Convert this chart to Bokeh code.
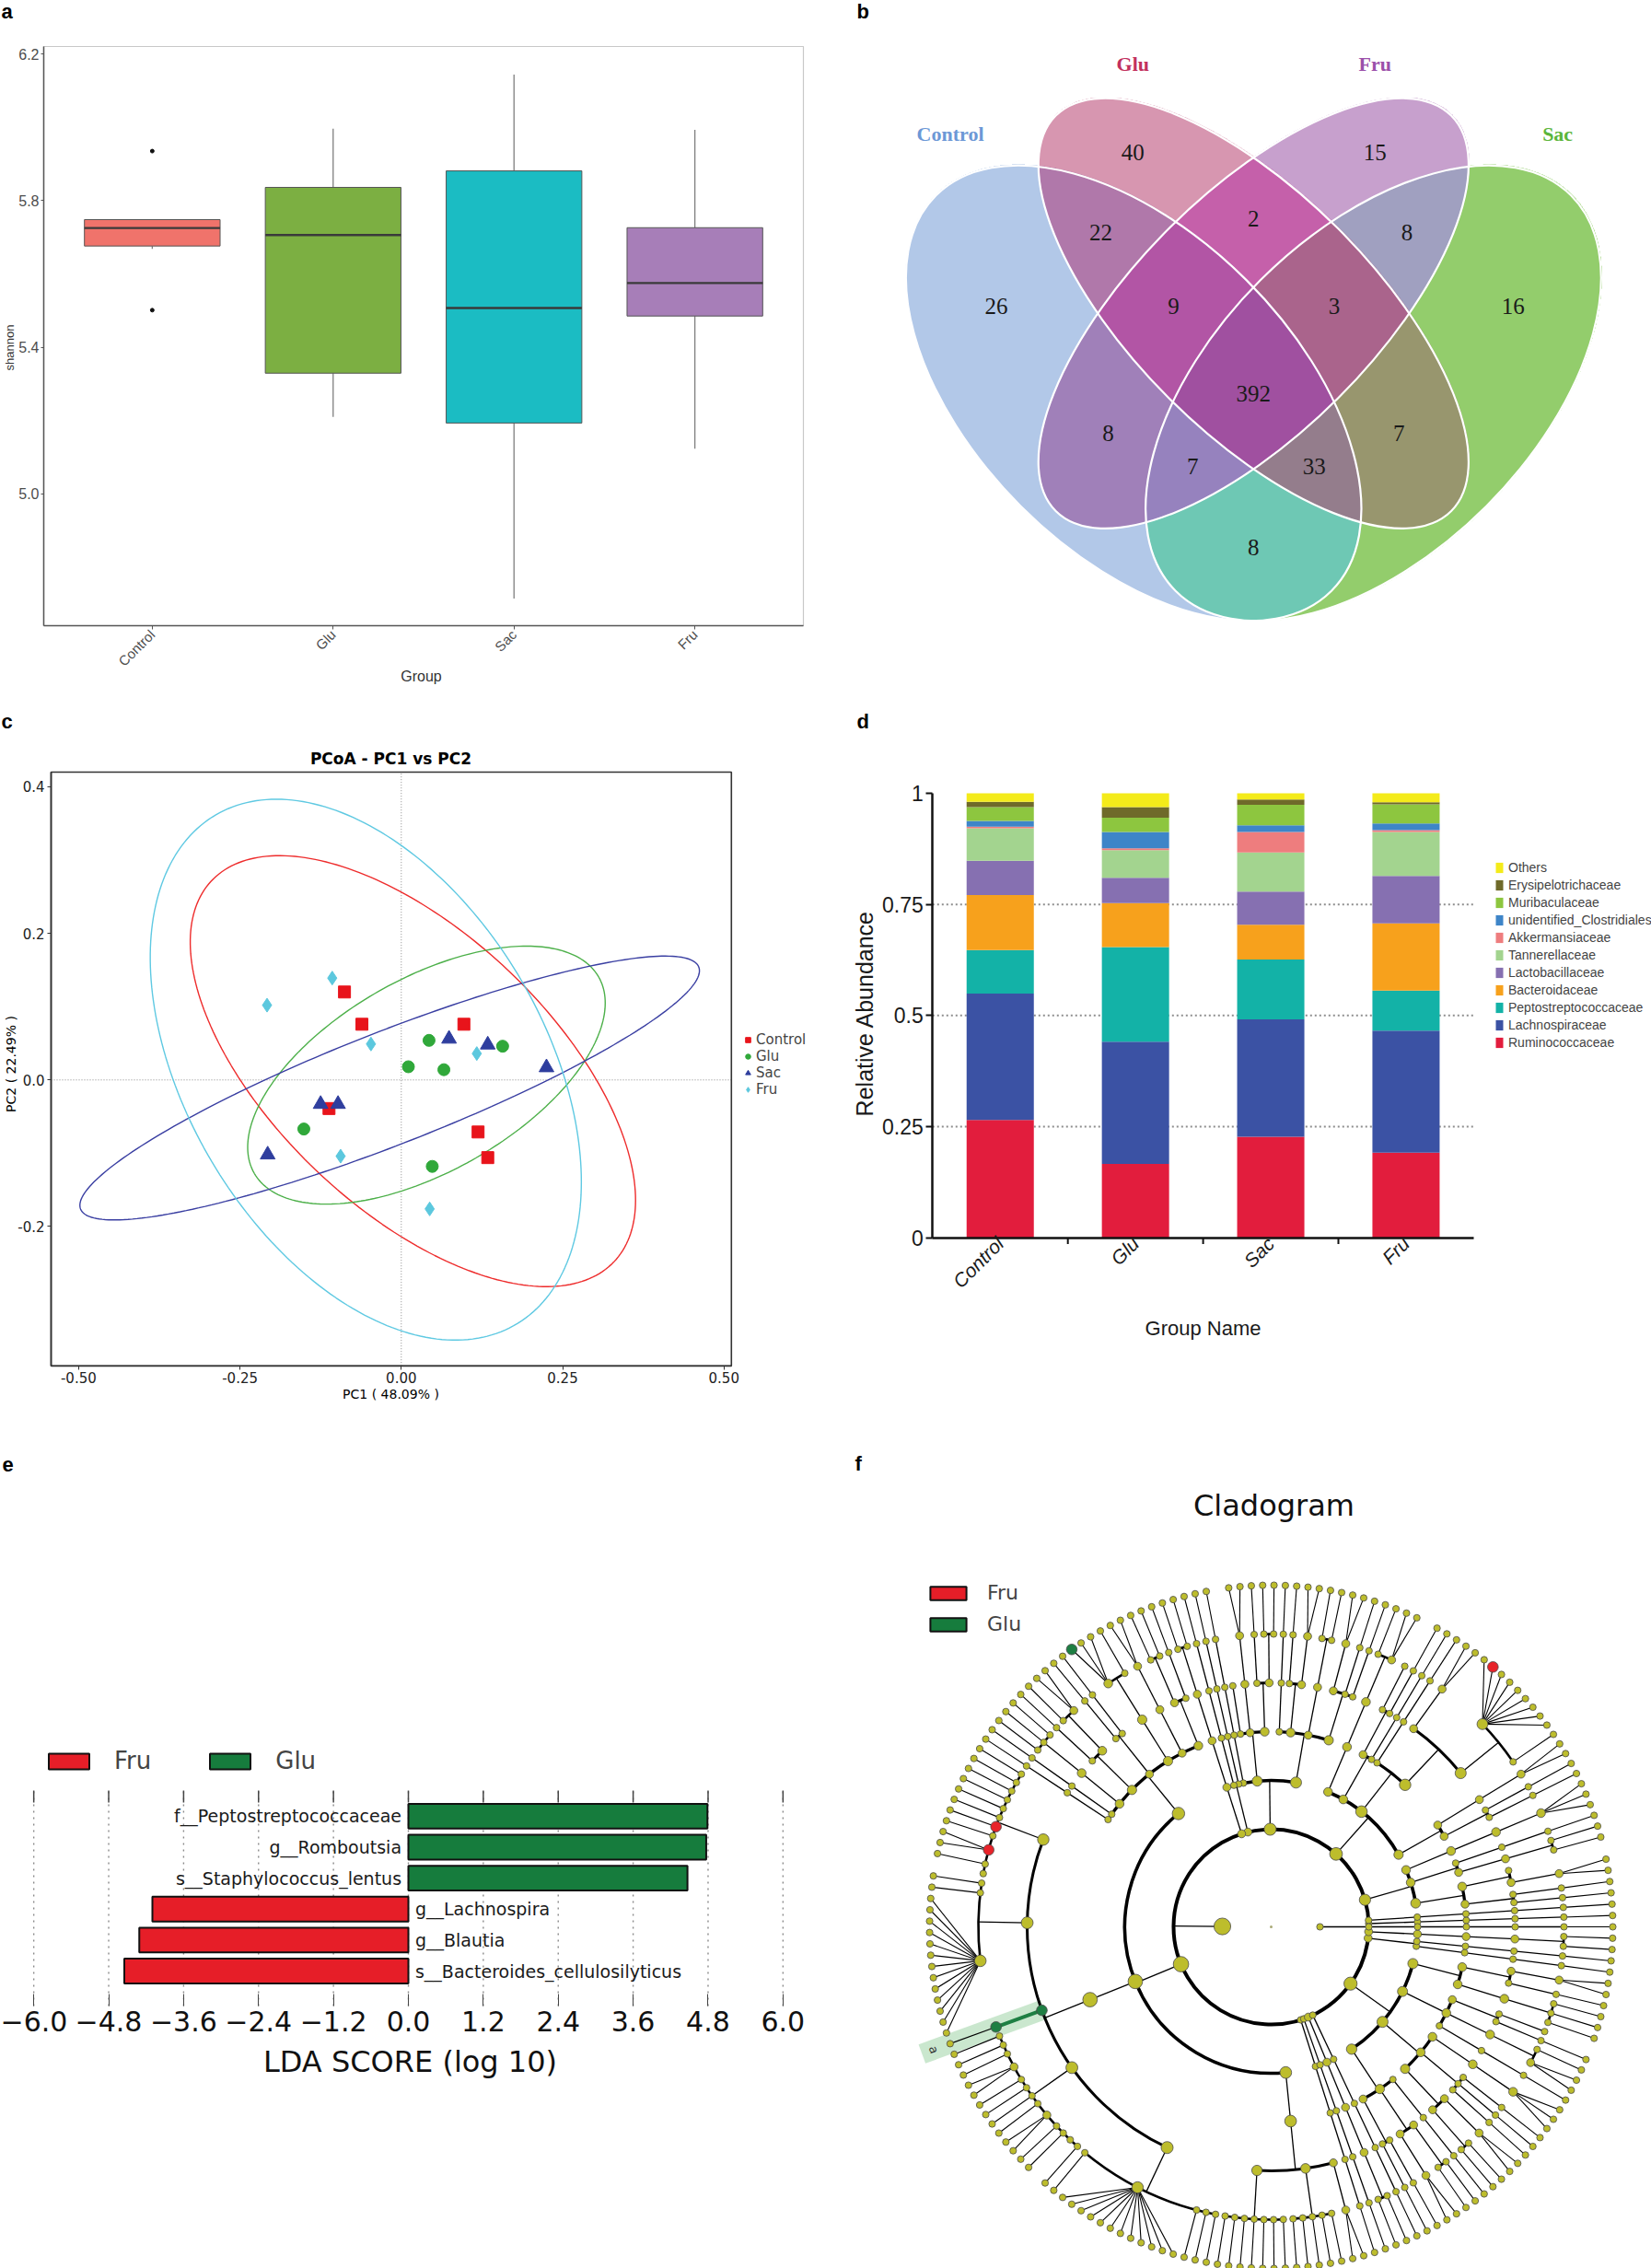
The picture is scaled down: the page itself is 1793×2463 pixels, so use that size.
import math
import numpy as np
from bokeh.plotting import figure
from bokeh.layouts import column, row
from bokeh.models import Label, FixedTicker, Range1d, LinearAxis, Legend, LegendItem
from bokeh.core.properties import value
from bokeh.embed import file_html
from bokeh.resources import INLINE

SANS = "Liberation Sans"
DJV = "DejaVu Sans"
SERIF = "Liberation Serif"

groups = ["Control", "Glu", "Sac", "Fru"]

# ---------------- (a) Shannon index ----------------
shannon_q1 = [5.676, 5.329, 5.193, 5.485]
shannon_median = [5.725, 5.706, 5.507, 5.575]
shannon_q3 = [5.748, 5.836, 5.881, 5.726]
shannon_low = [5.668, 5.210, 4.714, 5.123]
shannon_high = [5.748, 5.996, 6.144, 5.993]
outlier_groups = ["Control", "Control"]
outlier_values = [5.935, 5.501]
shannon_ticks = [5.0, 5.4, 5.8, 6.2]
box_colors = ["#F0736B", "#7CAF42", "#1BBCC3", "#A77EB8"]

# ---------------- (b) Venn ----------------
venn_names = ["Control", "Glu", "Fru", "Sac"]
venn_name_colors = ["#6C98D6", "#C2305E", "#9B50AA", "#5BB53B"]
venn_regions = ["Control", "Glu", "Fru", "Sac", "Control&Glu", "Glu&Fru", "Fru&Sac",
                "Control&Glu&Fru", "Glu&Fru&Sac", "Control&Glu&Fru&Sac", "Control&Fru",
                "Glu&Sac", "Control&Fru&Sac", "Control&Glu&Sac", "Control&Sac"]
venn_counts = [26, 40, 15, 16, 22, 2, 8, 9, 3, 392, 8, 7, 7, 33, 8]
venn_region_colors = ["#B2C8E8", "#D796B0", "#C7A0CD", "#93CD6C", "#B078AA", "#C560AA", "#A0A0C0",
                      "#B255A5", "#AA648C", "#A050A0", "#A080B9", "#98966E", "#9682BE", "#947D8C",
                      "#6EC8B4"]
# layout of the 4-set diagram (unit square)
venn_ell_x = [0.35, 0.50, 0.50, 0.65]
venn_ell_y = [0.47, 0.57, 0.57, 0.47]
venn_ell_a = [0.35, 0.35, 0.35, 0.35]
venn_ell_b = [0.20, 0.15, 0.15, 0.20]
venn_ell_rot = [135, 135, 45, 45]
venn_label_x = [0.1205, 0.349, 0.652, 0.8807]
venn_label_y = [0.794, 0.8825, 0.8825, 0.794]
venn_count_x = [0.178, 0.349, 0.652, 0.825, 0.309, 0.5, 0.692, 0.4, 0.601, 0.5, 0.318, 0.682, 0.424, 0.576, 0.5]
venn_count_y = [0.579, 0.771, 0.771, 0.579, 0.671, 0.689, 0.671, 0.579, 0.579, 0.469, 0.42, 0.42, 0.378, 0.378, 0.277]

# ---------------- (c) PCoA ----------------
control_pc1 = [-0.088, -0.061, 0.097, -0.112, 0.119, 0.134]
control_pc2 = [0.120, 0.076, 0.076, -0.039, -0.071, -0.106]
glu_pc1 = [0.043, 0.157, 0.011, 0.066, -0.151, 0.048]
glu_pc2 = [0.054, 0.046, 0.018, 0.014, -0.067, -0.118]
sac_pc1 = [0.074, 0.134, 0.225, -0.125, -0.098, -0.207]
sac_pc2 = [0.056, 0.048, 0.017, -0.033, -0.033, -0.102]
fru_pc1 = [-0.107, -0.208, -0.047, 0.117, -0.094, 0.044]
fru_pc2 = [0.139, 0.102, 0.049, 0.036, -0.104, -0.176]
# confidence ellipses: centre, half-extent in PC1, half-extent in PC2, cos(phase)
ell_cx = [0.018, 0.039, -0.018, -0.055]
ell_cy = [0.012, 0.0066, -0.011, 0.014]
ell_ax = [0.345, 0.277, 0.480, 0.334]
ell_by = [0.294, 0.176, 0.180, 0.369]
ell_cos = [-0.599, 0.559, 0.889, -0.415]
pc1_ticks = [-0.5, -0.25, 0.0, 0.25, 0.5]
pc2_ticks = [-0.2, 0.0, 0.2, 0.4]
pcoa_colors = ["#E8141B", "#30A83A", "#2F3E9E", "#5CC8DE"]
pcoa_ell_colors = ["#EE2C2C", "#4DB04A", "#3A3FA2", "#5FC9E2"]
pcoa_markers = ["square", "circle", "triangle", "diamond"]
pcoa_sizes = [13, 13, 16, 15]

# ---------------- (d) relative abundance ----------------
families = ["Ruminococcaceae", "Lachnospiraceae", "Peptostreptococcaceae", "Bacteroidaceae",
            "Lactobacillaceae", "Tannerellaceae", "Akkermansiaceae", "unidentified_Clostridiales",
            "Muribaculaceae", "Erysipelotrichaceae", "Others"]
abund_control = [0.265, 0.284, 0.098, 0.124, 0.077, 0.073, 0.004, 0.013, 0.031, 0.012, 0.019]
abund_glu = [0.166, 0.275, 0.213, 0.099, 0.057, 0.062, 0.004, 0.037, 0.032, 0.024, 0.031]
abund_sac = [0.227, 0.264, 0.135, 0.078, 0.075, 0.088, 0.046, 0.015, 0.046, 0.012, 0.014]
abund_fru = [0.191, 0.275, 0.090, 0.151, 0.107, 0.099, 0.004, 0.015, 0.043, 0.005, 0.020]
family_colors = ["#E21D3D", "#3B52A4", "#13B2A7", "#F7A11C", "#8670B1", "#A3D48F",
                 "#EE7D7E", "#3E85C8", "#8DC63F", "#6F6A2A", "#F4EB1A"]
abund_ticks = [0, 0.25, 0.5, 0.75, 1]
abund_labels = ["0", "0.25", "0.5", "0.75", "1"]

# ---------------- (e) LEfSe LDA ----------------
lda_taxa = ["s__Bacteroides_cellulosilyticus", "g__Blautia", "g__Lachnospira",
            "s__Staphylococcus_lentus", "g__Romboutsia", "f__Peptostreptococcaceae"]
lda_scores = [-4.55, -4.31, -4.10, 4.47, 4.77, 4.79]
lda_groups = ["Fru", "Fru", "Fru", "Glu", "Glu", "Glu"]
lda_ticks = [-6.0, -4.8, -3.6, -2.4, -1.2, 0.0, 1.2, 2.4, 3.6, 4.8, 6.0]
lefse_colors = {"Fru": "#E61E28", "Glu": "#167C3D"}

# ---------------- (f) cladogram (phylum > class > order > family > genus > species) ----------------
# list = clade with children, int n = clade with n terminal children, 0 = terminal clade,
# (group, spec) = clade enriched in that group
P01 = [[[[1]]]]
P02 = [[[[1]]]]
P03 = [[[[1], [1]], [[2], 0]], [[[1, 1]], [[1]]], [[[3]]]]
P04 = [[[[1], [1]], [[2]]],
       [[[1, [0, 0, 0, 0, 0, 0, 0, ("Fru", 0), 0]], [2]], [[1]]],
       [[[1]], [[1], [0]]],
       [[[2, 1]]]]
P05 = [[[[1], [1], [2]], [[1, 1]], [[2], [1]], [[1]]],
       [[[1, 1], [1]], [[2]], [0]],
       [[[1]]]]
P06 = [[[[1]]], [[[1]]]]
P07 = [[[[1, 1]]]]
FIRM_C1 = [[[1], [1, 1]], [[2]], [[1, [0, 0, ("Glu", 0)]]], [[1], [1]], [[2, 1], [1]],
           [[1, 1, 1]], [[1]], [[1]]]
FIRM_C2 = [[[1, 1, 1, 1, 1, 1, ("Fru", 1), 1, ("Fru", 2), 1, 0],
            [1, 1, 13],
            ("Glu", [("Glu", 1)]),
            [1, 1, 1, 2, 1, 1, 1, 1, 2, 1, 1, 0, 1],
            [1, 12, 1, 1, 1]]]
FIRM_C3 = [[[1, 1, 1, 1, 1, 1, 1], [1, 1, 1, 1, 1], [2]]]
FIRMICUTES = [FIRM_C1, FIRM_C2, FIRM_C3]
P10 = [[[[1]]]]
P11 = [[[[1]]]]
P12 = [[[[1, 1]]]]
P13 = [[[[1]]]]
P14 = [[[[1], [1]], [[2], [1, 1]], [[1]]],
       [[[1, 1], [2]], [[1], [1], [1]], [[3]]],
       [[[1]], [[2, 1]], [[1], [0]]],
       [[[1, 1, 1]], [[1], [2]]]]
P15 = [[[[1]]], [[[1]]]]
P16 = [[[[1, 1]]]]
BACTERIA = [P01, P02, P03, P04, P05, P06, P07, FIRMICUTES, P10, P11, P12, P13, P14, P15, P16]
ARCHAEA = [[[[[1]]]]]
TREE = [BACTERIA, ARCHAEA]


class Box:
    """Figure W x H placed at page (ox, oy); plot box given in page pixels mapped onto data ranges.
    The Bokeh frame is the whole figure."""

    def __init__(self, W, H, ox, oy, L, R, T, Bt, x0, x1, y0, y1):
        self.W, self.H, self.ox, self.oy = W, H, ox, oy
        l, r, t, b = L - ox, W - (R - ox), T - oy, H - (Bt - oy)
        self.sx = (x1 - x0) / (W - l - r)
        self.sy = (y1 - y0) / (H - t - b)
        self.X0 = x0 - l * self.sx
        self.Y1 = y1 + t * self.sy
        self.xr = Range1d(self.X0, x1 + r * self.sx)
        self.yr = Range1d(y0 - b * self.sy, self.Y1)

    def dx(self, X):
        return self.X0 + (X - self.ox) * self.sx

    def dy(self, Y):
        return self.Y1 - (Y - self.oy) * self.sy

    def loc(self, X, Ybottom):
        return (X - self.ox, self.H - (Ybottom - self.oy))


def fig(B):
    p = figure(width=B.W, height=B.H, x_range=B.xr, y_range=B.yr, output_backend="svg",
               toolbar_location=None, min_border=0, x_axis_location=None, y_axis_location=None)
    p.grid.visible = False
    p.outline_line_color = None
    return p


def lab(p, B, X, Y, text, size, color="#000000", font=SANS, style="normal", align="center",
        angle=0.0, baseline="middle"):
    p.add_layout(Label(x=B.dx(X), y=B.dy(Y), text=text, text_font=font, text_font_size=size,
                       text_color=color, text_font_style=style, text_align=align,
                       text_baseline=baseline, angle=angle))


def style_axis(ax, font, size, color, line_color, line_width, tick_out=4, tick_in=0, standoff=3):
    ax.axis_line_color = line_color
    ax.axis_line_width = line_width
    ax.major_tick_out = tick_out
    ax.major_tick_in = tick_in
    ax.major_tick_line_color = line_color
    ax.minor_tick_line_color = None
    ax.major_label_text_font = font
    ax.major_label_text_font_size = size
    ax.major_label_text_color = color
    ax.major_label_standoff = standoff


# ======================= panel a =======================
A0, A1, AY0, AY1 = 0.4, 4.6, 4.640, 6.2204
BA = Box(900, 760, 0, 0, 47, 872, 50, 679, A0, A1, AY0, AY1)
pa = fig(BA)
pa.quad(left=[A0], right=[A1], bottom=[AY0], top=[AY1], fill_color=None, line_color="#C8C8C8",
        line_width=1.2)
gx = [i + 1 for i in range(len(groups))]
pa.segment(gx, shannon_q3, gx, shannon_high, line_color="#7F7F7F", line_width=1.3)
pa.segment(gx, shannon_low, gx, shannon_q1, line_color="#7F7F7F", line_width=1.3)
pa.vbar(x=gx, width=0.75, bottom=shannon_q1, top=shannon_q3, fill_color=box_colors,
        line_color="#555555", line_width=1.0)
pa.segment([x - 0.375 for x in gx], shannon_median, [x + 0.375 for x in gx], shannon_median,
           line_color="#3A3A3A", line_width=2.4)
pa.scatter([groups.index(g) + 1 for g in outlier_groups], outlier_values, size=4, color="#111111")
xa = LinearAxis(fixed_location=AY0, bounds=(A0, A1), ticker=FixedTicker(ticks=gx),
                major_label_overrides={x: g for x, g in zip(gx, groups)},
                major_label_orientation=math.pi / 4)
style_axis(xa, SANS, "15px", "#4D4D4D", "#555555", 1.5)
pa.add_layout(xa, "below")
ya = LinearAxis(fixed_location=A0, bounds=(AY0, AY1), ticker=FixedTicker(ticks=shannon_ticks),
                major_label_overrides={t: "%.1f" % t for t in shannon_ticks})
style_axis(ya, SANS, "16px", "#4D4D4D", "#555555", 1.5, tick_out=3, standoff=2)
pa.add_layout(ya, "left")
lab(pa, BA, 1, 12, "a", "22px", style="bold", align="left")
lab(pa, BA, 457, 734, "Group", "16px", color="#333333")
lab(pa, BA, 10, 377, "shannon", "13px", color="#333333", angle=math.pi / 2)

# ======================= panel b =======================
VPX = 867.7                      # pixels per unit of the Venn layout
BB = Box(893, 760, 900, 0, 900, 1793, 0, 760, -0.0311, 0.9981, 0.0857, 0.9616)
pb = fig(BB)
upp = 1.0 / VPX
vx0, vy0 = 0.065, 0.185
vnx, vny = int(0.8705 * VPX) + 1, int(0.654 * VPX) + 1
gxs = vx0 + (np.arange(vnx) + 0.5) * upp
gys = vy0 + (np.arange(vny) + 0.5) * upp
XX, YY = np.meshgrid(gxs, gys)
mask = np.zeros((vny, vnx), dtype=np.int32)
for i in range(4):
    th = math.radians(venn_ell_rot[i])
    ddx = XX - venn_ell_x[i]
    ddy = YY - venn_ell_y[i]
    u = ddx * math.cos(th) + ddy * math.sin(th)
    v = -ddx * math.sin(th) + ddy * math.cos(th)
    inside = (u / venn_ell_a[i]) ** 2 + (v / venn_ell_b[i]) ** 2 <= 1.0
    mask |= inside.astype(np.int32) << i
img = np.zeros((vny, vnx), dtype=np.uint32)
view = img.view(dtype=np.uint8).reshape((vny, vnx, 4))
for name, col in zip(venn_regions, venn_region_colors):
    m = sum(1 << venn_names.index(s) for s in name.split("&"))
    sel = mask == m
    view[sel, 0] = int(col[1:3], 16)
    view[sel, 1] = int(col[3:5], 16)
    view[sel, 2] = int(col[5:7], 16)
    view[sel, 3] = 255
pb.image_rgba(image=[img], x=vx0, y=vy0, dw=vnx * upp, dh=vny * upp)
pb.ellipse(x=venn_ell_x, y=venn_ell_y, width=[2 * a for a in venn_ell_a],
           height=[2 * b for b in venn_ell_b], angle=[math.radians(r) for r in venn_ell_rot],
           fill_color=None, line_color="white", line_width=2.2)
pb.text(x=venn_count_x, y=venn_count_y, text=[str(c) for c in venn_counts],
        text_font=value(SERIF), text_font_size="25px", text_color="#1A1A1A",
        text_align="center", text_baseline="middle")
pb.text(x=venn_label_x, y=venn_label_y, text=venn_names, text_color=venn_name_colors,
        text_font=value(SERIF), text_font_style="bold", text_font_size="22px",
        text_align="center", text_baseline="middle")
lab(pb, BB, 930, 12, "b", "22px", style="bold", align="left")

# ======================= panel c =======================
C0, C1, CY0, CY1 = -0.5426, 0.5115, -0.390, 0.420
BC = Box(900, 780, 0, 760, 55, 793.8, 838, 1482.7, C0, C1, CY0, CY1)
pc = fig(BC)
pc.segment(x0=[0.0, C0], y0=[CY0, 0.0], x1=[0.0, C1], y1=[CY1, 0.0], line_color="#8A8A8A",
           line_dash="1 2", line_width=1)
tt = np.linspace(0, 2 * np.pi, 240)
for i in range(4):
    dd = math.acos(ell_cos[i])
    pc.line(ell_cx[i] + ell_ax[i] * np.cos(tt), ell_cy[i] + ell_by[i] * np.cos(tt - dd),
            line_color=pcoa_ell_colors[i], line_width=1.4)
pcoa_x = [control_pc1, glu_pc1, sac_pc1, fru_pc1]
pcoa_y = [control_pc2, glu_pc2, sac_pc2, fru_pc2]
crend = []
for i, g in enumerate(groups):
    crend.append(pc.scatter(pcoa_x[i], pcoa_y[i], marker=pcoa_markers[i], size=pcoa_sizes[i],
                            fill_color=pcoa_colors[i], line_color=pcoa_colors[i]))
pc.quad(left=[C0], right=[C1], bottom=[CY0], top=[CY1], fill_color=None, line_color="#333333",
        line_width=1.6)
xc = LinearAxis(fixed_location=CY0, bounds=(C0, C1), ticker=FixedTicker(ticks=pc1_ticks),
                major_label_overrides={t: "%.2f" % t for t in pc1_ticks})
style_axis(xc, DJV, "15px", "#222222", "#333333", 1.6)
pc.add_layout(xc, "below")
yc = LinearAxis(fixed_location=C0, bounds=(CY0, CY1), ticker=FixedTicker(ticks=pc2_ticks),
                major_label_overrides={t: "%.1f" % t for t in pc2_ticks})
style_axis(yc, DJV, "15px", "#222222", "#333333", 1.6)
pc.add_layout(yc, "left")
leg_c = Legend(items=[LegendItem(label=g, renderers=[crend[i]]) for i, g in enumerate(groups)],
               location=BC.loc(805, 1192), padding=0, margin=0, spacing=0, glyph_width=14,
               glyph_height=14, label_height=14, label_standoff=2, label_text_font=DJV,
               label_text_font_size="15px", label_text_line_height=0.95,
               border_line_color=None, background_fill_alpha=0)
pc.add_layout(leg_c)
lab(pc, BC, 1, 783, "c", "22px", style="bold", align="left")
lab(pc, BC, 424, 823, "PCoA - PC1 vs PC2", "17px", font=DJV, style="bold")
lab(pc, BC, 424, 1513, "PC1 ( 48.09% )", "14px", font=DJV)
lab(pc, BC, 11, 1155, "PC2 ( 22.49% )", "14px", font=DJV, angle=math.pi / 2)

# ======================= panel d =======================
BD = Box(893, 780, 900, 760, 1012.3, 1599.9, 861, 1343.5, 0.0, 4.0, 0.0, 1.0)
pdd = fig(BD)
grid_levels = abund_ticks[1:-1]
pdd.segment(x0=[0.0] * len(grid_levels), y0=grid_levels, x1=[4.0] * len(grid_levels), y1=grid_levels,
            line_color="#8E8E8E", line_dash="2 3", line_width=2)
bar_x = [0.5, 1.5, 2.5, 3.5]
abund = [abund_control, abund_glu, abund_sac, abund_fru]
src = {"x": bar_x}
for j, fam in enumerate(families):
    src[fam] = [abund[k][j] for k in range(4)]
rends = pdd.vbar_stack(families, x="x", width=0.497, color=family_colors, source=src, line_width=0)
bounds_x = [1.0, 2.0, 3.0]
pdd.segment(x0=bounds_x, y0=[0.0] * 3, x1=bounds_x, y1=[-7 * BD.sy] * 3, line_color="#111111",
            line_width=2)
xd = LinearAxis(fixed_location=0.0, bounds=(0.0, 4.0), ticker=FixedTicker(ticks=bar_x),
                major_label_overrides={x: g for x, g in zip(bar_x, groups)},
                major_label_orientation=math.pi / 4, major_label_text_font_style="italic")
style_axis(xd, SANS, "21px", "#1A1A1A", "#111111", 2.5, tick_out=0)
xd.major_tick_line_color = None
pdd.add_layout(xd, "below")
yd = LinearAxis(fixed_location=0.0, bounds=(0.0, 1.0), ticker=FixedTicker(ticks=abund_ticks),
                major_label_overrides={t: s for t, s in zip(abund_ticks, abund_labels)})
style_axis(yd, SANS, "23px", "#1A1A1A", "#111111", 2.5, tick_out=7)
yd.major_tick_line_width = 2
pdd.add_layout(yd, "left")
leg_d = Legend(items=[LegendItem(label=families[j], renderers=[rends[j]]) for j in range(len(families) - 1, -1, -1)],
               location=BD.loc(1623, 1141), padding=0, margin=0, spacing=0, glyph_width=10,
               glyph_height=14, label_height=19, label_standoff=5, label_text_font=SANS,
               label_text_font_size="14px", label_text_line_height=1.0,
               border_line_color=None, background_fill_alpha=0)
pdd.add_layout(leg_d)
lab(pdd, BD, 930, 783, "d", "22px", style="bold", align="left")
lab(pdd, BD, 938, 1100, "Relative Abundance", "25px", color="#1A1A1A", angle=math.pi / 2)
lab(pdd, BD, 1306, 1442, "Group Name", "22px", color="#1A1A1A")

# ======================= panel e =======================
E0, E1, EY0, EY1 = -6.262, 6.253, -1.13, 5.83
BE = Box(900, 923, 0, 1540, 18.4, 867, 1944, 2178, E0, E1, EY0, EY1)
pe = fig(BE)
nt = len(lda_ticks)
pe.segment(x0=lda_ticks, y0=[EY0] * nt, x1=lda_ticks, y1=[EY1] * nt, line_color="#8A8A8A",
           line_dash="2 5", line_width=1.4)
pe.segment(x0=lda_ticks, y0=[EY1] * nt, x1=lda_ticks, y1=[EY1 - 13 * BE.sy] * nt,
           line_color="#444444", line_width=1.5)
ypos = list(range(len(lda_taxa)))
erend = {}
for grp in ["Fru", "Glu"]:
    idx = [i for i, g in enumerate(lda_groups) if g == grp]
    erend[grp] = pe.hbar(y=[ypos[i] for i in idx], left=0, right=[lda_scores[i] for i in idx],
                         height=0.8, fill_color=lefse_colors[grp], line_color="#111111", line_width=2)
pos_i = [i for i, s in enumerate(lda_scores) if s > 0]
neg_i = [i for i, s in enumerate(lda_scores) if s <= 0]
pe.text(x=[-0.11] * len(pos_i), y=[ypos[i] for i in pos_i], text=[lda_taxa[i] for i in pos_i],
        text_align="right", text_baseline="middle", text_font=value(DJV), text_font_size="19px",
        text_color="#1A1A1A")
pe.text(x=[0.11] * len(neg_i), y=[ypos[i] for i in neg_i], text=[lda_taxa[i] for i in neg_i],
        text_align="left", text_baseline="middle", text_font=value(DJV), text_font_size="19px",
        text_color="#1A1A1A")
xe = LinearAxis(fixed_location=EY0, bounds=(E0, E1), ticker=FixedTicker(ticks=lda_ticks),
                major_label_overrides={t: ("\u2212%.1f" % abs(t) if t < 0 else "%.1f" % t) for t in lda_ticks})
style_axis(xe, DJV, "30px", "#111111", "#444444", 1.5, tick_out=0, tick_in=13, standoff=5)
xe.axis_line_color = None
pe.add_layout(xe, "below")
leg_e = Legend(items=[LegendItem(label=g, renderers=[erend[g]]) for g in ["Fru", "Glu"]],
               orientation="horizontal", location=BE.loc(47, 1927), padding=0, margin=0, spacing=58,
               glyph_width=55, glyph_height=21, label_standoff=22, label_text_font=DJV,
               label_text_font_size="26px", border_line_color=None, background_fill_alpha=0)
pe.add_layout(leg_e)
lab(pe, BE, 2, 1590, "e", "22px", style="bold", align="left")
lab(pe, BE, 445, 2238, "LDA SCORE (log 10)", "32px", font=DJV, color="#111111")

# ======================= panel f =======================
BF = Box(893, 923, 900, 1540, 900, 1793, 1540, 2463, 0.0, 893.0, 0.0, 923.0)
pf = fig(BF)
CX, CY, DR = BF.dx(1380), BF.dy(2092), 53.0


def build(spec, depth):
    cls = None
    if isinstance(spec, tuple):
        cls, spec = spec
    kids = [0] * spec if isinstance(spec, int) else spec
    return {"d": depth, "cls": cls, "kids": [build(k, depth + 1) for k in kids]}


root = build(TREE, 0)
leaves = []


def collect(n):
    if not n["kids"]:
        leaves.append(n)
    for k in n["kids"]:
        collect(k)


collect(root)
NL = len(leaves)
for i, lf in enumerate(leaves):
    lf["a"] = (i + 1) * 360.0 / NL


def assign(n):
    if n["kids"]:
        for k in n["kids"]:
            assign(k)
        n["a"] = (n["kids"][0]["a"] + n["kids"][-1]["a"]) / 2.0
        n["n"] = sum(k["n"] for k in n["kids"])
    else:
        n["n"] = 1


assign(root)


def pol(r, a):
    return CX + r * math.cos(math.radians(a)), CY + r * math.sin(math.radians(a))


seg = {"x0": [], "y0": [], "x1": [], "y1": [], "c": [], "w": []}
arc = {"r": [], "s": [], "e": [], "w": []}
nodes = {"x": [], "y": [], "s": [], "c": []}
arc_w = {2: 4.0, 3: 3.6, 4: 3.3, 5: 3.0, 6: 2.6}
node_col = {None: "#BDBD2C", "Fru": "#E8232A", "Glu": "#1E7F43"}
band = []


def walk(n):
    d = n["d"]
    if d >= 1:
        x, y = pol(DR * d, n["a"])
        nodes["x"].append(x)
        nodes["y"].append(y)
        rr = 3.6 + 1.05 * math.log(n["n"])
        if n["cls"] is not None:
            rr = max(rr, 5.8)
        nodes["s"].append(2 * rr)
        nodes["c"].append(node_col[n["cls"]])
        if n["cls"] == "Glu" and n["kids"] and not band:
            band.append(n["a"])
        if n["kids"]:
            if d >= 6:
                for k in n["kids"]:
                    x1, y1 = pol(DR * (d + 1), k["a"])
                    seg["x0"].append(x); seg["y0"].append(y)
                    seg["x1"].append(x1); seg["y1"].append(y1)
                    seg["c"].append("#000000"); seg["w"].append(1.1)
            else:
                x1, y1 = pol(DR * (d + 1), n["a"])
                hl = n["cls"] is not None and all(k["cls"] == n["cls"] for k in n["kids"])
                seg["x0"].append(x); seg["y0"].append(y)
                seg["x1"].append(x1); seg["y1"].append(y1)
                seg["c"].append(node_col[n["cls"]] if hl else "#000000")
                seg["w"].append(4.0 if hl else 1.3)
                a0, a1 = n["kids"][0]["a"], n["kids"][-1]["a"]
                if a1 - a0 > 0.01:
                    arc["r"].append(DR * (d + 1))
                    arc["s"].append(math.radians(a0))
                    arc["e"].append(math.radians(a1))
                    arc["w"].append(arc_w[d + 1])
    for k in n["kids"]:
        walk(k)


walk(root)
if band:
    ab = band[0]
    bx, by = pol(333, ab)
    pf.rect(x=[bx], y=[by], width=141, height=22, angle=math.radians(ab), fill_color="#9FD4A5",
            fill_alpha=0.55, line_color=None)
    tx, ty = pol(390, ab)
    pf.text(x=[tx], y=[ty], text=["a"], angle=math.radians(ab + 90), text_font=value(DJV),
            text_font_size="13px", text_align="center", text_baseline="middle", text_color="#333333")
for i in range(len(arc["r"])):
    pf.arc(x=CX, y=CY, radius=arc["r"][i], start_angle=arc["s"][i], end_angle=arc["e"][i],
           direction="anticlock", line_color="#000000", line_width=arc["w"][i])
pf.segment(x0="x0", y0="y0", x1="x1", y1="y1", line_color="c", line_width="w", source=seg)
pf.scatter(x="x", y="y", size="s", fill_color="c", line_color="#4A4A4A", line_width=0.8, source=nodes)
pf.scatter(x=[CX], y=[CY], size=3, fill_color="#AAAA77", line_color=None)
# legend proxies (placed outside the visible range)
rf = pf.rect(x=[-100], y=[-100], width=1, height=1, fill_color=lefse_colors["Fru"], line_color="#111111", line_width=2)
rg = pf.rect(x=[-100], y=[-100], width=1, height=1, fill_color=lefse_colors["Glu"], line_color="#111111", line_width=2)
leg_f = Legend(items=[LegendItem(label="Fru", renderers=[rf]), LegendItem(label="Glu", renderers=[rg])],
               location=BF.loc(1005, 1776), padding=0, margin=0, spacing=9, glyph_width=49, glyph_height=18,
               label_standoff=18, label_text_font=DJV, label_text_font_size="22px",
               border_line_color=None, background_fill_alpha=0)
pf.add_layout(leg_f)
lab(pf, BF, 928, 1589, "f", "22px", style="bold", align="left")
lab(pf, BF, 1383, 1634, "Cladogram", "32px", font=DJV, color="#111111")

layout = column(row(pa, pb), row(pc, pdd), row(pe, pf))
open("out.html", "w").write(file_html(layout, INLINE))
